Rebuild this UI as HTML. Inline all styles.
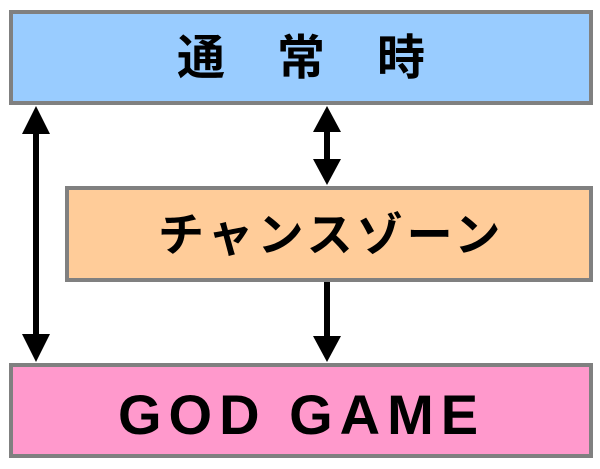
<!DOCTYPE html>
<html><head><meta charset="utf-8"><style>
html,body{margin:0;padding:0;background:#fff;}
body{width:600px;height:469px;position:relative;overflow:hidden;}
.box{position:absolute;box-sizing:border-box;border:4px solid #808080;}
.t{position:absolute;font-family:"Liberation Sans","Noto Sans CJK JP",sans-serif;font-weight:bold;color:#000;white-space:nowrap;line-height:1;}
</style></head><body>
<div class="box" style="left:9px;top:10px;width:584px;height:95px;background:#99ccff;"></div>
<div class="box" style="left:65px;top:186px;width:528px;height:96px;background:#ffcc99;"></div>
<div class="box" style="left:9px;top:363px;width:584px;height:95px;background:#ff99cc;"></div>
<span class="t" style="left:177px;top:35px;font-size:48px;">通</span>
<span class="t" style="left:277px;top:35px;font-size:48px;">常</span>
<span class="t" style="left:377px;top:35px;font-size:48px;">時</span>
<span class="t" style="left:158px;top:212px;font-size:46px;letter-spacing:4px;">チャンスゾーン</span>
<span class="t" style="left:118px;top:387px;font-size:56px;letter-spacing:7px;">GOD GAME</span>
<svg width="600" height="469" style="position:absolute;left:0;top:0;">
<g fill="#000">
<rect x="33" y="128" width="6" height="210"/>
<polygon points="36,106 22,134 50,134"/>
<polygon points="36,362 22,334 50,334"/>
<rect x="324" y="128" width="6" height="36"/>
<polygon points="327,106 313,132 341,132"/>
<polygon points="327,185 313,159 341,159"/>
<rect x="324" y="282" width="6" height="58"/>
<polygon points="327,362 313,336 341,336"/>
</g>
</svg>
</body></html>
